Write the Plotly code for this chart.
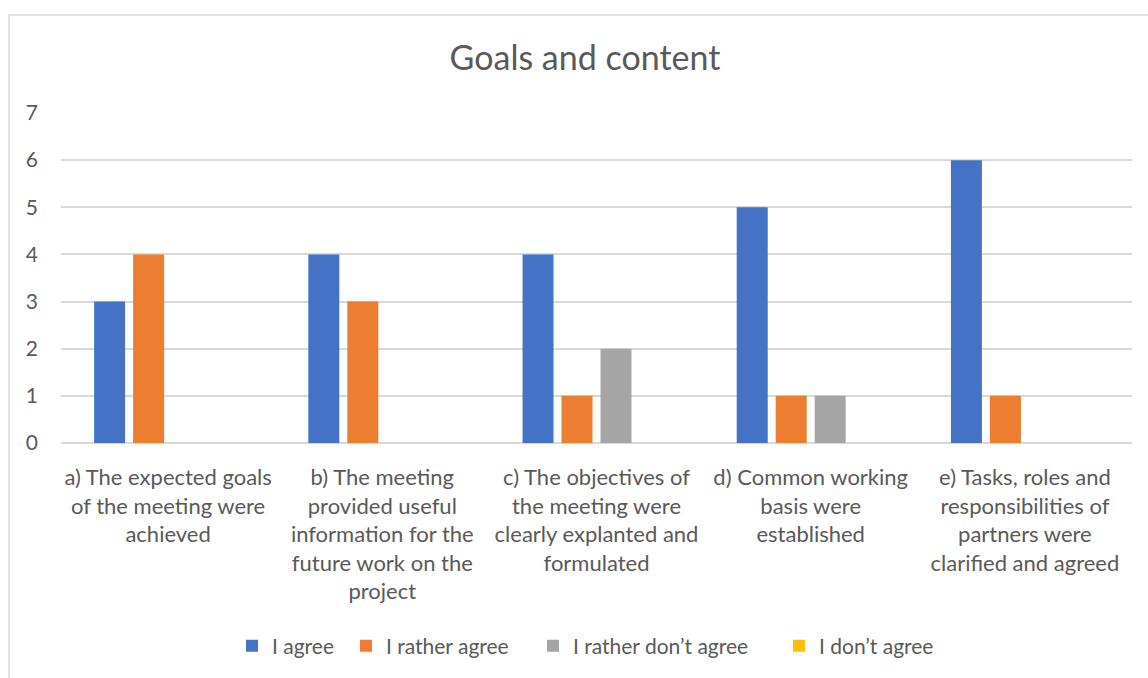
import plotly.graph_objects as go

categories = [
    "a) The expected goals<br>of the meeting were<br>achieved",
    "b) The meeting<br>provided useful<br>information for the<br>future work on the<br>project",
    "c) The objectives of<br>the meeting were<br>clearly explanted and<br>formulated",
    "d) Common working<br>basis were<br>established",
    "e) Tasks, roles and<br>responsibilities of<br>partners were<br>clarified and agreed",
]
series_names = ["I agree", "I rather agree", "I rather don\u2019t agree", "I don\u2019t agree"]
agree = [3, 4, 4, 5, 6]
rather_agree = [4, 3, 1, 1, 1]
rather_disagree = [0, 0, 2, 1, 0]
disagree = [0, 0, 0, 0, 0]
colors = ["#4472C4", "#ED7D31", "#A5A5A5", "#FFC000"]
y_ticks = [0, 1, 2, 3, 4, 5, 6, 7]

FONT = "Lato, Open Sans, sans-serif"
W, H = 1148, 678
L, R, T, B = 61, 16, 113, 232
pw = W - L - R
ph = H - T - B

legend_ids = ["legend", "legend2", "legend3", "legend4"]
legend_px = [248, 362, 549, 795]  # left edge of each legend swatch, in pixels

fig = go.Figure()
for name, vals, c, lid in zip(series_names, [agree, rather_agree, rather_disagree, disagree], colors, legend_ids):
    fig.add_trace(go.Bar(name=name, x=categories, y=vals, legend=lid, showlegend=True,
                         marker=dict(color=c, line=dict(width=0))))

legend_y = -(651 - (H - B)) / ph
legends = {}
for lid, px in zip(legend_ids, legend_px):
    legends[lid] = dict(orientation="h", x=(px - 16 - L) / pw, xanchor="left", y=legend_y, yanchor="middle",
                        font=dict(size=21, color="#595959", family=FONT), bgcolor="rgba(0,0,0,0)",
                        visible=True)

fig.update_layout(
    width=W, height=H,
    margin=dict(l=L, r=R, t=T, b=B),
    paper_bgcolor="white", plot_bgcolor="white",
    showlegend=True,
    barmode="group", bargap=0.272, bargroupgap=0.205,
    font=dict(family=FONT, color="#595959", size=21),
    title=dict(text="Goals and content", x=585 / W, xanchor="center", xref="container",
               y=1 - 58 / H, yanchor="middle", yref="container",
               font=dict(size=34, color="#595959", family=FONT)),
    yaxis=dict(range=[0, 7], tickvals=y_ticks, showgrid=True, gridcolor="#D9D9D9", gridwidth=1.5,
               zeroline=True, zerolinecolor="#D9D9D9", zerolinewidth=1.5, showline=False,
               ticks="", ticklabelstandoff=22, tickfont=dict(size=21, color="#595959")),
    xaxis=dict(showline=False, ticks="", tickangle=0, ticklabelstandoff=19,
               tickfont=dict(size=22, color="#595959")),
    shapes=[dict(type="rect", xref="paper", yref="paper",
                 x0=(9 - L) / pw, x1=(1170 - L) / pw,
                 y0=-(700 - (H - B)) / ph, y1=((H - B) - 14) / ph,
                 line=dict(color="#D9D9D9", width=1.5), fillcolor="rgba(0,0,0,0)", layer="below")],
    **legends,
)
fig.write_html("out.html", config={"displayModeBar": False},
               post_script="document.body.style.margin='0px';")
